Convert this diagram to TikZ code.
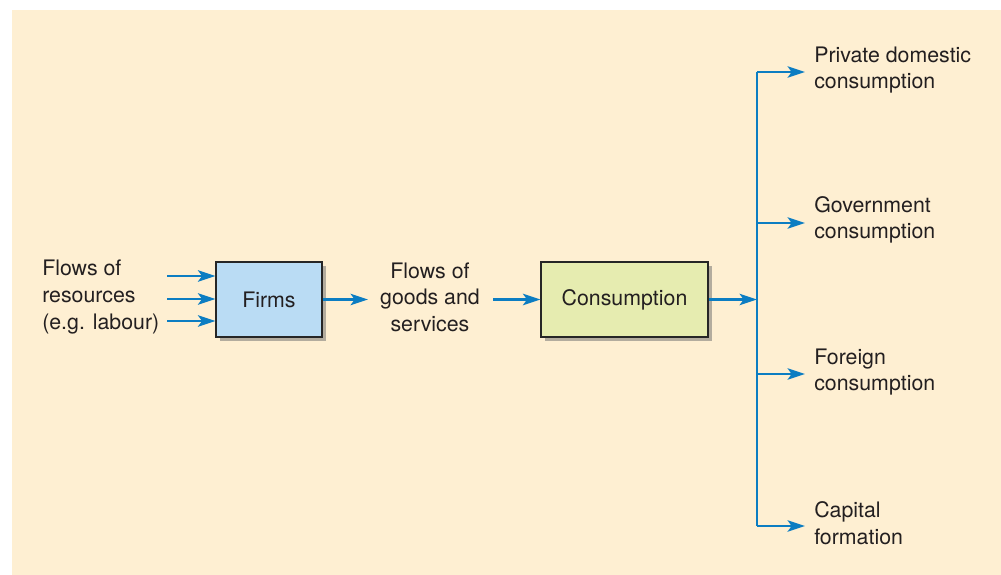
\documentclass[tikz,border=0pt]{standalone}
\usepackage{fontspec}
\setmainfont{TeX Gyre Heros}
\usetikzlibrary{arrows.meta}
\definecolor{bg}{HTML}{FEEFD2}
\definecolor{arrowblue}{HTML}{0C7DC2}
\definecolor{firmblue}{HTML}{BADCF4}
\definecolor{consgreen}{HTML}{E6ECB0}
\definecolor{shadowc}{HTML}{B3AC9E}
\definecolor{txt}{HTML}{231F20}
\begin{document}
\begin{tikzpicture}[x=0.75pt,y=-0.75pt,
  flow/.style={draw=arrowblue, line width=2.1pt, -{Stealth[length=13pt,width=8.5pt,inset=3pt]}},
  bar/.style={draw=arrowblue, line width=2.1pt},
  label/.style={text=txt, font=\fontsize{16}{19.9}\selectfont, inner sep=0pt},
  outlabel/.style={label, align=left, anchor=west, inner xsep=6.75pt},
  boxnode/.style={draw=black!85, line width=0.9pt, minimum height=56.25pt, text=txt,
    font=\fontsize{16}{19.9}\selectfont},
  shadowbox/.style={fill=shadowc, draw=none, minimum height=56.25pt}
]
\useasboundingbox (0,0) rectangle (1001,575);
\fill[bg] (12,10) rectangle (1001,575);

% shadows
\node[shadowbox, minimum width=79.5pt] at (272.5,303) {};
\node[shadowbox, minimum width=125.25pt] at (628,303) {};

% boxes
\node[boxnode, fill=firmblue, minimum width=79.5pt] (firms) at (269,299.5) {Firms};
\node[boxnode, fill=consgreen, minimum width=125.25pt] (cons) at (624.5,299.5) {Consumption};

% texts
\node[label, align=left, anchor=west] (res) at (42,297) {Flows of\\resources\\(e.g. labour)};
\node[label, align=center] (goods) at (430,297) {Flows of\\goods and\\services};

% input arrows
\coordinate (in1) at (167,276);
\coordinate (in2) at (167,299);
\coordinate (in3) at (167,321);
\draw[flow] (in1) -- (in1 -| firms.west);
\draw[flow] (in2) -- (in2 -| firms.west);
\draw[flow] (in3) -- (in3 -| firms.west);

% middle arrows
\coordinate (g1) at (368,299.5);
\draw[flow] (firms.east) -- (g1);
\coordinate (g2) at (493,299.5);
\draw[flow] (g2) -- (cons.west);

% hub
\coordinate (hub) at (757,299.5);
\coordinate (b1) at (757,72);
\coordinate (b2) at (757,223);
\coordinate (b3) at (757,374);
\coordinate (b4) at (757,526);
\draw[flow] (cons.east) -- (hub);
\draw[bar] (b1) -- (b4);

% outputs
\node[outlabel] (pd) at (805,70) {Private domestic\\consumption};
\node[outlabel] (gc) at (805,220) {Government\\consumption};
\node[outlabel] (fc) at (805,372) {Foreign\\consumption};
\node[outlabel] (cf) at (805,523) {Capital\\formation};
\draw[flow] (b1) -- (b1 -| pd.west);
\draw[flow] (b2) -- (b2 -| gc.west);
\draw[flow] (b3) -- (b3 -| fc.west);
\draw[flow] (b4) -- (b4 -| cf.west);
\end{tikzpicture}
\end{document}
